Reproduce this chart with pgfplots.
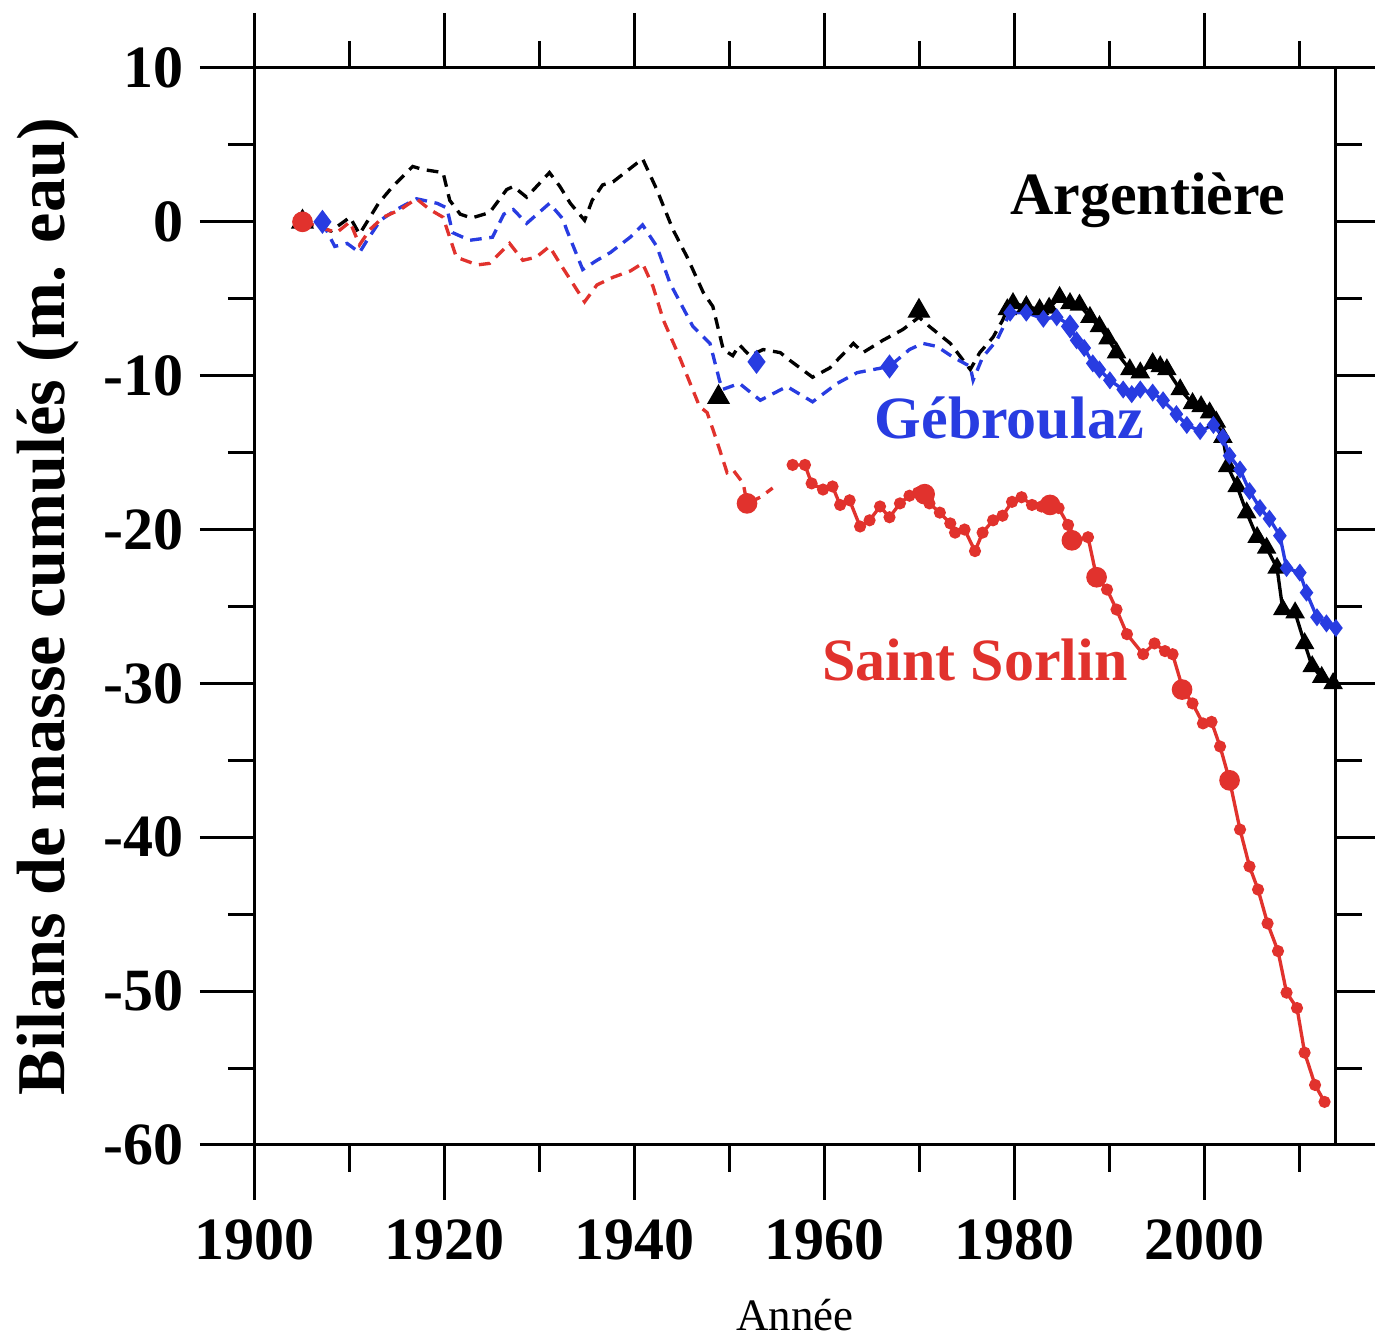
\documentclass[border=0pt]{standalone}
\usepackage{fontspec}
\setmainfont{Liberation Serif}
\usepackage{pgfplots}
\pgfplotsset{compat=1.18}
\definecolor{argC}{RGB}{0,0,0}
\definecolor{gebC}{RGB}{40,60,225}
\definecolor{ssC}{RGB}{225,50,45}

\begin{document}
\begin{tikzpicture}
\begin{axis}[
  scale only axis, width=324pt, height=323.1pt,
  xmin=1900, xmax=2013.7, ymin=-60, ymax=10,
  axis line style={line width=0.9pt},
  tick style={line width=0.9pt, black},
  tick align=outside,
  major tick length=16.5pt, minor tick length=8.1pt,
  xtick={1900,1920,...,2000}, minor xtick={1910,1930,...,2010},
  ytick={-60,-50,...,10}, minor ytick={-55,-45,...,5},
  tick label style={font=\fontsize{18}{20}\selectfont\bfseries},
  xticklabel style={yshift=-2.5pt},
  yticklabel style={xshift=-1.5pt},
  /pgf/number format/assume math mode=true,
  /pgf/number format/1000 sep={},
  xlabel={Année},
  xlabel style={font=\fontsize{13.5}{15}\selectfont, at={(axis description cs:0.5,-0.158)}, anchor=center},
  ylabel={Bilans de masse cumulés (m. eau)},
  ylabel style={font=\fontsize{20.5}{23}\selectfont\bfseries, at={(axis description cs:-0.192,0.5)}, anchor=center},
  clip=false,
  dashline/.style={line width=1pt, dash pattern=on 3.5pt off 2.3pt, mark=none},
]

% Argentiere: reconstructed (dashed) then measured (triangles)
\addplot[argC, dashline] coordinates {
(1905,0) (1908,-0.6) (1910,0.3) (1911,-0.8) (1913,1.2) (1914.5,2.3) (1916.6,3.6)
(1917.7,3.4) (1919.8,3.2) (1920.5,1.4) (1921.6,0.5) (1922.8,0.25) (1924.7,0.6)
(1926.5,2.1) (1927.2,2.3) (1928.6,1.6) (1931,3.2) (1932.1,2.3) (1933.2,1.2)
(1934.7,0.1) (1935.5,1.4) (1936.6,2.4) (1937.7,2.6) (1940.8,4.1) (1942.3,2.1)
(1944,-0.5) (1945.5,-2.3) (1947.2,-4.6) (1948.2,-5.5) (1949.3,-8.3) (1950.3,-8.7)
(1951,-8.0) (1952.1,-8.7) (1953.5,-8.3) (1955.3,-8.5) (1956.3,-9.0) (1958.7,-10.1)
(1960.5,-9.5) (1963,-7.9) (1964,-8.5) (1966.1,-7.7) (1968.2,-7.0) (1969.9,-6.2)
(1971,-6.8) (1973.2,-7.9) (1975.3,-9.6) (1976.3,-8.5) (1977.7,-7.5) (1978.7,-6.4)
(1979.2,-5.7)
};
\addplot[argC, line width=1pt, mark=triangle*, mark size=2.4pt] coordinates {
(1979.2,-5.7) (1979.8,-5.3) (1981.2,-5.5) (1982.6,-5.7) (1983.6,-5.6) (1984.7,-4.9)
(1985.8,-5.3) (1986.8,-5.4) (1987.9,-6.2) (1988.9,-6.8) (1989.8,-7.6) (1990.7,-8.5)
(1992.1,-9.6) (1993.2,-9.8) (1994.5,-9.2) (1995.3,-9.4) (1996.0,-9.6) (1997.4,-10.9)
(1998.7,-11.8) (1999.6,-12.0) (2000.5,-12.4) (2001.2,-13.0) (2001.9,-14.0) (2002.4,-15.9)
(2003.4,-17.2) (2004.4,-18.9) (2005.5,-20.5) (2006.5,-21.2) (2007.6,-22.5) (2008.2,-25.2)
(2009.5,-25.4) (2010.5,-27.4) (2011.3,-28.9) (2012.3,-29.6) (2013.5,-30.0)
};
\addplot[argC, only marks, mark=triangle*, mark size=3.6pt] coordinates {
(1905,0) (1948.8,-11.4) (1969.9,-5.8)
};

% Gebroulaz
\addplot[gebC, dashline] coordinates {
(1907.1,0) (1907.9,-1.0) (1908.4,-1.6) (1909.7,-1.4) (1911,-2.0) (1911.8,-1.2)
(1913.2,0.1) (1914.9,0.8) (1917,1.5) (1919.2,1.2) (1920.2,0.9) (1920.8,-0.7)
(1922.6,-1.2) (1925,-1.0) (1926.2,0.5) (1927.2,0.8) (1928.6,-0.1) (1931,1.2)
(1932.4,0.2) (1932.8,-0.5) (1934.5,-3.1) (1936,-2.5) (1937.4,-2.0) (1939.5,-1.0)
(1940.8,-0.2) (1942.3,-1.6) (1943.7,-4.0) (1946.1,-6.8) (1947.9,-7.9) (1948.9,-10.3)
(1949.2,-10.9) (1951,-10.5) (1953.2,-11.6) (1956,-10.7) (1958.7,-11.7) (1961.3,-10.5)
(1963.4,-9.8) (1966.8,-9.4) (1968.9,-8.3) (1970.3,-7.9) (1971.8,-8.1) (1973.5,-8.8)
(1975.3,-9.4) (1975.6,-10.3) (1976.6,-8.8) (1978.1,-7.7) (1979.5,-5.9)
};
\addplot[gebC, line width=1pt, mark=diamond*, mark size=1.9pt] coordinates {
(1979.5,-5.9) (1981.2,-5.9) (1983.0,-6.3) (1984.4,-6.2) (1985.8,-6.7) (1986.5,-7.7)
(1987.3,-8.2) (1988.2,-9.2) (1988.9,-9.6) (1990.0,-10.3) (1991.4,-10.9) (1992.3,-11.2)
(1993.2,-10.9) (1994.5,-11.1) (1995.6,-11.6) (1997.0,-12.5) (1998.1,-13.2) (1999.5,-13.6)
(2000.9,-13.2) (2001.9,-14.0) (2002.6,-15.2) (2003.7,-16.1) (2004.7,-17.5) (2005.8,-18.6)
(2006.8,-19.3) (2007.9,-20.4) (2008.6,-22.5) (2010.0,-22.8) (2010.7,-24.1) (2011.8,-25.7)
(2012.8,-26.1) (2013.8,-26.4)
};
\addplot[gebC, only marks, mark=diamond*, mark size=3.3pt] coordinates {
(1907.1,0) (1952.8,-9.1) (1966.8,-9.4) (1985.8,-6.8)
};

% Saint Sorlin
\addplot[ssC, dashline] coordinates {
(1905,0) (1908.6,-0.7) (1910,0.0) (1911,-1.5) (1912.1,-0.5) (1913.5,0.3) (1915.3,0.8)
(1917,1.5) (1918.4,0.8) (1919.8,0.3) (1920.5,-1.0) (1921.2,-2.3) (1923.4,-2.8)
(1924.7,-2.7) (1926.8,-1.4) (1928.2,-2.5) (1929.6,-2.3) (1931,-1.6) (1932.1,-2.7)
(1934.7,-5.2) (1936,-4.1) (1937.7,-3.6) (1939.5,-3.2) (1940.8,-2.7) (1941.9,-4.2)
(1943,-6.4) (1944.7,-8.8) (1946.8,-12.0) (1947.6,-12.4) (1948.6,-14.2) (1949.7,-16.3)
(1950.3,-16.1) (1951.4,-17.0) (1951.8,-18.3) (1953.2,-17.9) (1954.5,-17.3)
};
\addplot[ssC, line width=1pt, mark=*, mark size=1.3pt] coordinates {
(1956.6,-15.8) (1957.9,-15.8) (1958.6,-17.0) (1959.8,-17.4) (1960.8,-17.2) (1961.6,-18.4)
(1962.6,-18.1) (1963.7,-19.8) (1964.7,-19.4) (1965.8,-18.5) (1966.8,-19.2) (1967.9,-18.3)
(1968.9,-17.8) (1969.8,-17.6) (1970.7,-17.6) (1971.0,-18.3) (1972.1,-18.9) (1973.2,-19.6)
(1973.7,-20.2) (1974.7,-20.0) (1975.8,-21.4) (1976.6,-20.2) (1977.7,-19.4) (1978.7,-19.1)
(1979.7,-18.2) (1980.7,-17.9) (1981.8,-18.4) (1982.8,-18.5) (1983.7,-18.3) (1984.6,-18.6)
(1985.6,-19.7) (1986.5,-20.7) (1987.7,-20.5) (1988.6,-23.1) (1989.7,-23.9) (1990.7,-25.2)
(1991.8,-26.8) (1993.5,-28.1) (1994.7,-27.4) (1995.8,-27.9) (1996.6,-28.1) (1997.7,-30.4)
(1998.7,-31.3) (1999.8,-32.6) (2000.7,-32.5) (2001.6,-34.1) (2002.6,-36.3) (2003.7,-39.5)
(2004.7,-41.9) (2005.6,-43.4) (2006.6,-45.6) (2007.7,-47.4) (2008.6,-50.1) (2009.7,-51.1)
(2010.5,-54.0) (2011.6,-56.1) (2012.6,-57.2)
};
\addplot[ssC, only marks, mark=*, mark size=2.9pt] coordinates {
(1905,0) (1951.8,-18.3) (1970.5,-17.7) (1983.7,-18.4) (1986,-20.7) (1988.6,-23.1)
(1997.6,-30.4) (2002.6,-36.3)
};

\node[font=\fontsize{18}{20}\selectfont\bfseries, text=black] at (axis cs:1994,1.4) {Argentière};
\node[font=\fontsize{18}{20}\selectfont\bfseries, text=gebC] at (axis cs:1979.4,-12.75) {Gébroulaz};
\node[font=\fontsize{18}{20}\selectfont\bfseries, text=ssC] at (axis cs:1975.8,-28.5) {Saint Sorlin};
\end{axis}
\pgfresetboundingbox
\path[use as bounding box] ([xshift=-76.5pt,yshift=-58.8pt]current axis.south west)
  rectangle ([xshift=12pt,yshift=20.4pt]current axis.north east);
\end{tikzpicture}
\end{document}
